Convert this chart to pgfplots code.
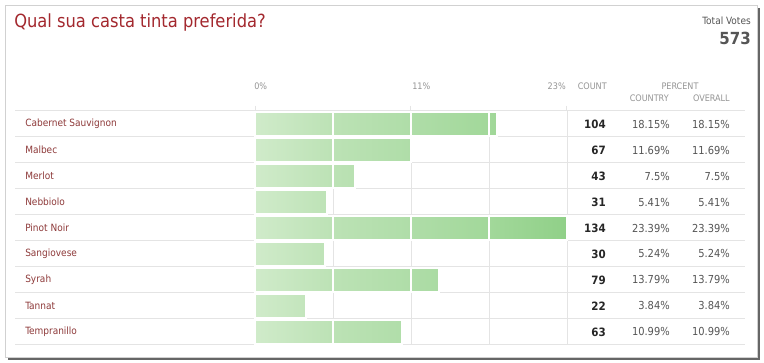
\documentclass[border=0pt]{standalone}
\usepackage{fontspec}
\setmainfont{DejaVu Sans Condensed}
\usepackage{pgfplots}
\pgfplotsset{compat=1.18}
\usepackage{pgfplotstable}
\definecolor{titlered}{HTML}{A3282E}
\definecolor{catred}{HTML}{8E3A3A}
\definecolor{hdr}{HTML}{959595}
\definecolor{gridc}{HTML}{E4E4E4}
\definecolor{g0}{RGB}{208,235,202}
\definecolor{g1}{RGB}{188,226,181}
\definecolor{g2}{RGB}{175,221,168}
\definecolor{g3}{RGB}{162,216,154}
\definecolor{g4}{RGB}{144,208,136}
\definecolor{txt}{HTML}{555555}
\pgfplotstableread{
row cnt pct sa sb sc sd
1 104 18.15 5.8475 5.8475 5.8475 0.6075
2 67 11.69 5.8475 5.8425 0 0
3 43 7.5 5.8475 1.6525 0 0
4 31 5.41 5.41 0 0 0
5 134 23.39 5.8475 5.8475 5.8475 5.8475
6 30 5.24 5.24 0 0 0
7 79 13.79 5.8475 5.8475 2.095 0
8 22 3.84 3.84 0 0 0
9 63 10.99 5.8475 5.1425 0 0
}\data
\begin{document}
\begin{tikzpicture}[x=0.75pt,y=-0.75pt]
\fill[white] (0,0) rectangle (764,363);
\fill[black!60] (8,8) rectangle (760,360);
\fill[white, draw=black!18] (5,5) rectangle (757,357);
\begin{axis}[at={(11.25pt,-83.25pt)}, anchor=north west, scale only axis,
  width=547.5pt, height=175.5pt,
  xmin=-17.992, xmax=36.734, ymin=0.5, ymax=9.5, y dir=reverse,
  xbar stacked, bar width=18pt,
  axis line style={draw=none}, major tick length=0pt, minor tick length=0pt,
  xtick={0,5.8475,11.695,17.5425,23.39}, xticklabels={}, xmajorgrids,
  ytick={1,...,9},
  yticklabels={Cabernet Sauvignon,Malbec,Merlot,Nebbiolo,Pinot Noir,Sangiovese,Syrah,Tannat,Tempranillo},
  minor ytick={0.5,1.5,...,9.5}, yminorgrids,
  major grid style={draw=gridc, line width=0.75pt},
  minor grid style={draw=gridc, line width=0.75pt},
  yticklabel style={anchor=west, xshift=7.5pt, inner sep=0pt, text=catred, font=\fontsize{7.5}{9}\selectfont},
  clip=false]
\addplot[draw=white, line width=1.5pt, left color=g0, right color=g1] table[x=sa, y=row] {\data};
\addplot[draw=white, line width=1.5pt, left color=g1, right color=g2] table[x=sb, y=row] {\data};
\addplot[draw=white, line width=1.5pt, left color=g2, right color=g3] table[x=sc, y=row] {\data};
\addplot[draw=white, line width=1.5pt, left color=g3, right color=g4] table[x=sd, y=row] {\data};
\end{axis}
\begin{axis}[at={(11.25pt,-83.25pt)}, anchor=north west, scale only axis,
  width=547.5pt, height=175.5pt,
  xmin=-17.992, xmax=36.734, ymin=0.5, ymax=9.5, y dir=reverse,
  hide axis, clip=false]
\addplot[draw=none, mark=none, point meta=explicit symbolic,
  nodes near coords={\bfseries\pgfplotspointmeta},
  every node near coord/.append style={anchor=east, inner sep=0pt, text=black!85, font=\fontsize{8.6}{10}\selectfont}]
  table[x expr=26.31, y=row, meta=cnt] {\data};
\addplot[draw=none, mark=none, point meta=explicit symbolic,
  nodes near coords={\pgfplotspointmeta\%},
  every node near coord/.append style={anchor=east, inner sep=0pt, text=txt, font=\fontsize{8.25}{10}\selectfont}]
  table[x expr=31.11, y=row, meta=pct] {\data};
\addplot[draw=none, mark=none, point meta=explicit symbolic,
  nodes near coords={\pgfplotspointmeta\%},
  every node near coord/.append style={anchor=east, inner sep=0pt, text=txt, font=\fontsize{8.25}{10}\selectfont}]
  table[x expr=35.61, y=row, meta=pct] {\data};
\end{axis}
\draw[gridc, line width=0.75pt] (255,106) -- (255,111) (410,106) -- (410,111) (566,106) -- (566,111);
\node[anchor=base west, text=titlered, font=\fontsize{13.6}{16}\selectfont, inner sep=0] at (14,28) {Qual sua casta tinta preferida?};
\node[anchor=base east, text=txt, font=\fontsize{7.5}{9}\selectfont, inner sep=0] at (751,25) {Total Votes};
\node[anchor=base east, text=txt, font=\fontsize{12.5}{14}\selectfont\bfseries, inner sep=0] at (751,45) {573};
\begin{scope}[every node/.style={text=hdr, font=\fontsize{6.75}{8}\selectfont, inner sep=0}]
\node[anchor=base west] at (254,90) {0\%};
\node[anchor=base west] at (412,90) {11\%};
\node[anchor=base east] at (566,90) {23\%};
\node[anchor=base east] at (607,90) {COUNT};
\node[anchor=base] at (680,90) {PERCENT};
\node[anchor=base east] at (669,102) {COUNTRY};
\node[anchor=base east] at (730,102) {OVERALL};
\end{scope}
\end{tikzpicture}
\end{document}
